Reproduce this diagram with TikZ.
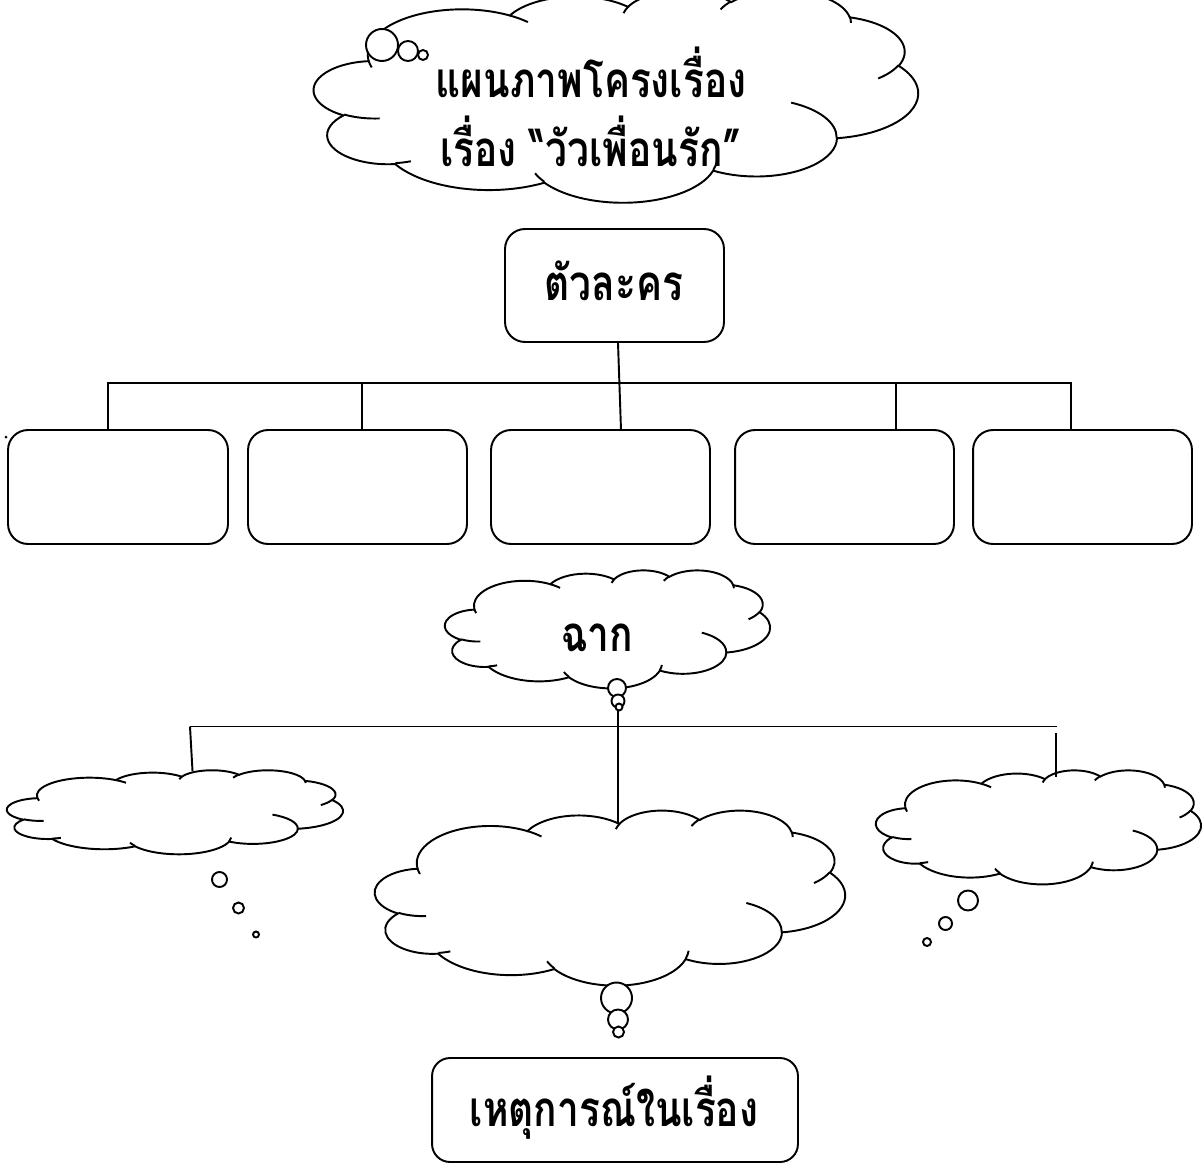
\documentclass[tikz,border=0pt]{standalone}
\usepackage{fontspec}
\newfontfamily\thaifont[Script=Thai]{Loma}
\tikzset{
  ln/.style={line width=1.1pt, draw=black},
  rbox/.style={draw=black, line width=1.1pt, rounded corners=0.4cm, fill=white, inner sep=0pt},
  lbl/.style={font=\thaifont\bfseries\fontsize{28}{39}\selectfont, align=center, inner sep=0pt},
  bub/.style={line width=1.1pt, draw=black, fill=white},
}
\newcommand\sq[1]{\scalebox{0.79}[1]{#1}}
\newcommand\cloudarc[4]{arc[x radius=#1,y radius=#2,start angle={atan2((#1)*sin(#3),(#2)*cos(#3))},delta angle={mod(atan2((#1)*sin((#3)+(#4)),(#2)*cos((#3)+(#4)))-atan2((#1)*sin(#3),(#2)*cos(#3))+720,360)}]}
\newcommand\wcloud[4]{%
  \pgfmathsetmacro\cwx{#3*0.02/21.6}%
  \pgfmathsetmacro\cwy{#4*0.02/21.6}%
  \begin{scope}[shift={(#1,#2)},x=\cwx cm,y=-\cwy cm]
    \draw[ln,fill=white] (1.95,7.185)
      \cloudarc{3.3765}{4.595}{-190.4875}{123.7805}
      \cloudarc{2.6665}{3.6335}{-144.1024}{89.9452}
      \cloudarc{2.1825}{2.9725}{-145.8079}{99.7230}
      \cloudarc{2.4285}{3.2975}{-130.9861}{117.2417}
      \cloudarc{2.6665}{3.6365}{-78.7089}{109.0269}
      \cloudarc{3.3875}{4.61}{-46.2673}{130.269}
      \cloudarc{2.8925}{3.9335}{0.625}{114.0333}
      \cloudarc{3.376}{4.6075}{22.4516}{115.1726}
      \cloudarc{3.86}{5.2715}{66.2426}{75.7110}
      \cloudarc{2.18}{2.959}{-274.9421}{146.7356}
      \cloudarc{2.1725}{2.9725}{-246.8285}{152.5189} -- cycle;
    \draw[ln]
      (2.3465,13.0885) \cloudarc{2.1725}{2.9725}{86.742}{26.4295}
      (3.464,17.4495) \cloudarc{2.18}{2.959}{73.6105}{11.4475}
      (8.239,19.545) \cloudarc{3.376}{4.6075}{137.6242}{14.0811}
      (14.4135,17.3755) \cloudarc{3.376}{4.6075}{6.4533}{15.9984}
      (17.0645,11.477) \cloudarc{2.8925}{3.9335}{-70.2924}{70.9174}
      (20.899,7.677) \cloudarc{2.6665}{3.6365}{30.3180}{27.7515}
      (19.162,2.713) \cloudarc{2.4285}{3.2975}{-13.7443}{14.8589}
      (14.539,1.976) \cloudarc{2.4285}{3.2975}{-149.1815}{18.1954}
      (11.0705,2.36) \cloudarc{2.1825}{2.9725}{-163.4943}{17.6864}
      (7.0,2.596) \cloudarc{3.3765}{4.595}{-66.7070}{12.3194}
      (2.0635,7.8945) \cloudarc{3.3765}{4.595}{157.6544}{11.8582};
  \end{scope}}
\begin{document}
\begin{tikzpicture}[x=0.02cm,y=-0.02cm]
\useasboundingbox[fill=white] (0,0) rectangle (1202,1165);
% title cloud
\wcloud{314}{-10}{604}{212}
\draw[bub] (382,45) circle (16);
\draw[bub] (408,51) circle (10);
\draw[bub] (423,55) circle (5);
\node[lbl] (title) at (591,107) {\sq{แผนภาพโครงเรื่อง}\\\sq{เรื่อง “วัวเพื่อนรัก”}};
% characters
\node[rbox, minimum width=4.38cm, minimum height=2.26cm] (char) at (614.5,285.5) {};
\node[lbl] (charlbl) at (614,281) {\sq{ตัวละคร}};
\node[rbox, minimum width=4.4cm, minimum height=2.28cm] (b1) at (118,487) {};
\node[rbox, minimum width=4.38cm, minimum height=2.28cm] (b2) at (357.5,487) {};
\node[rbox, minimum width=4.38cm, minimum height=2.28cm] (b3) at (600.5,487) {};
\node[rbox, minimum width=4.38cm, minimum height=2.28cm] (b4) at (844.5,487) {};
\node[rbox, minimum width=4.38cm, minimum height=2.28cm] (b5) at (1082.5,487) {};
\coordinate (bus) at (619,383);
\coordinate (t1) at (108,430);
\coordinate (t2) at (362,430);
\coordinate (t3) at (621,430);
\coordinate (t4) at (896,430);
\coordinate (t5) at (1071,430);
\draw[ln] (char.south -| 618,0) -- (t3);
\draw[ln] (t1) -- (t1 |- bus) -- (t5 |- bus) -- (t5);
\draw[ln] (t2) -- (t2 |- bus);
\draw[ln] (t4) -- (t4 |- bus);
\fill (6,437) circle (1.5);
% scene cloud
\wcloud{445}{570}{325}{118}
\node[lbl] (scene) at (597,638) {\sq{ฉาก}};
\draw[bub] (617,688) circle (9);
\draw[bub] (618,701) circle (6.5);
\draw[bub] (619,707) circle (3.5);
\coordinate (sc) at (618,711);
% event clouds
\wcloud{7}{770}{336}{84}
\coordinate (e1) at (192.5,771);
\draw[bub] (219.5,879.5) circle (7.5);
\draw[bub] (238.5,908) circle (5.5);
\draw[bub] (256,934.5) circle (3);
\wcloud{876}{770}{325}{114}
\coordinate (e3) at (1056,777);
\draw[bub] (968,900.5) circle (10);
\draw[bub] (945.5,923.5) circle (6.5);
\draw[bub] (927,942) circle (4);
\wcloud{375}{810}{470}{175}
\coordinate (e2) at (618,823);
\draw[bub] (616.5,998) circle (15.5);
\draw[bub] (618,1019.5) circle (10);
\draw[bub] (618.5,1032) circle (5.5);
\coordinate (busL) at (190,726.5);
\coordinate (busR) at (1057,726.5);
\draw[ln] (sc) -- (e2);
\draw[ln] (busL) -- (busR);
\draw[ln] (busL) -- (e1);
\draw[ln] (1056,733) -- (e3);
% events box
\node[rbox, minimum width=7.32cm, minimum height=2.08cm, rounded corners=0.36cm] (ev) at (615,1110) {};
\node[lbl] (evlbl) at (614,1108) {\sq{เหตุการณ์ในเรื่อง}};
\end{tikzpicture}
\end{document}
